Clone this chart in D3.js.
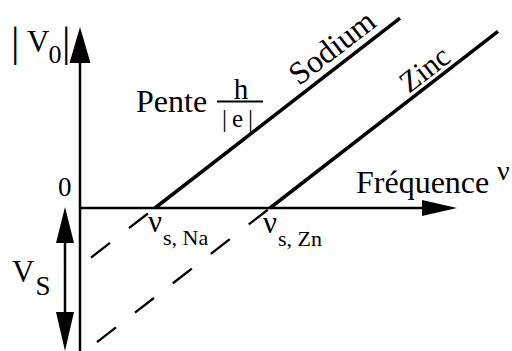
<!DOCTYPE html>
<html>
<head>
<meta charset="utf-8">
<script src="https://cdn.jsdelivr.net/npm/d3@7"></script>
<style>
  html, body { margin: 0; padding: 0; background: #fff; }
  svg { display: block; }
</style>
</head>
<body>
<svg id="chart" width="512" height="351" font-family="Liberation Serif, DejaVu Serif, serif"></svg>
<script>
// Photoelectric effect: stopping potential |V0| versus frequency ν
const metals = ["Sodium", "Zinc"];
const thresholdFreq = [18.75, 47.5];     // ν_s, where |V0| = 0
const dashStartFreq = [2.75, 4.25];      // start of the extrapolated part
const lineEndFreq = [80, 104.5];         // end of the measured part
const labelFreq = [56, 83];              // where each metal name sits along its line
const labelOffset = [8, 5];              // gap between name and line
const labelSize = [32, 30];
const thresholdSub = ["s, Na", "s, Zn"];
const slope = 0.775;                     // h/|e| (same for every metal)

const svg = d3.select("#chart");
const W = 512, H = 351;

const x = d3.scaleLinear().domain([0, 108]).range([80, 512]);
const y = d3.scaleLinear().domain([-35.75, 52]).range([351, 0]);

const V = (nu, i) => slope * (nu - thresholdFreq[i]);
const angle = Math.atan2(y(0) - y(slope), x(1) - x(0)) * 180 / Math.PI;

// ---- axes ----
const yAxisTop = 45.25, xAxisEnd = 94.25;
svg.append("line")
  .attr("x1", x(0)).attr("y1", H).attr("x2", x(0)).attr("y2", y(yAxisTop) + 20)
  .attr("stroke", "#000").attr("stroke-width", 2.5);
svg.append("path")
  .attr("d", `M${x(0)},${y(yAxisTop)} L${x(0) - 10.5},${y(yAxisTop) + 36} L${x(0) + 10.5},${y(yAxisTop) + 36} Z`)
  .attr("fill", "#000");

svg.append("line")
  .attr("x1", x(0)).attr("y1", y(0)).attr("x2", x(xAxisEnd) - 20).attr("y2", y(0))
  .attr("stroke", "#000").attr("stroke-width", 2.5);
svg.append("path")
  .attr("d", `M${x(xAxisEnd)},${y(0)} L${x(xAxisEnd) - 35},${y(0) - 8} L${x(xAxisEnd) - 35},${y(0) + 8} Z`)
  .attr("fill", "#000");

// ---- V_S double arrow ----
const vsX = x(-3.75);
svg.append("line")
  .attr("x1", vsX).attr("y1", y(0) + 20).attr("x2", vsX).attr("y2", H - 20)
  .attr("stroke", "#000").attr("stroke-width", 2.5);
svg.append("path")
  .attr("d", `M${vsX},${y(0) - 1} L${vsX - 9},${y(0) + 35} L${vsX + 9},${y(0) + 35} Z`)
  .attr("fill", "#000");
svg.append("path")
  .attr("d", `M${vsX},${H} L${vsX - 9},${H - 39} L${vsX + 9},${H - 39} Z`)
  .attr("fill", "#000");

// ---- metal lines ----
metals.forEach((m, i) => {
  // extrapolated part below the axis
  svg.append("line")
    .attr("x1", x(dashStartFreq[i])).attr("y1", y(V(dashStartFreq[i], i)))
    .attr("x2", x(thresholdFreq[i])).attr("y2", y(0))
    .attr("stroke", "#000").attr("stroke-width", 2.3)
    .attr("stroke-dasharray", "24,24");
  // measured part
  svg.append("line")
    .attr("x1", x(thresholdFreq[i])).attr("y1", y(0))
    .attr("x2", x(lineEndFreq[i])).attr("y2", y(V(lineEndFreq[i], i)))
    .attr("stroke", "#000").attr("stroke-width", 3.5);

  // metal name written along the line
  const px = x(labelFreq[i]), py = y(V(labelFreq[i], i));
  const a = angle * Math.PI / 180;
  const tx = px - labelOffset[i] * Math.sin(a), ty = py - labelOffset[i] * Math.cos(a);
  svg.append("text")
    .attr("transform", `translate(${tx},${ty}) rotate(${-angle})`)
    .attr("font-size", labelSize[i])
    .text(m);

  // threshold frequency label ν_s
  const lx = x(thresholdFreq[i]) - 7;
  const t = svg.append("text").attr("x", lx).attr("y", y(0) + 24 + i).attr("font-size", 31);
  t.append("tspan").text("ν");
  t.append("tspan").attr("dy", 13).attr("dx", 1).attr("font-size", 22).text(thresholdSub[i]);
});

// ---- labels ----
svg.append("text").attr("x", 58).attr("y", 196).attr("font-size", 27).text("0");

// |V0|
svg.append("text").attr("x", 11).attr("y", 56).attr("font-size", 42).text("|");
const v0 = svg.append("text").attr("x", 27).attr("y", 52).attr("font-size", 31);
v0.append("tspan").text("V");
v0.append("tspan").attr("dy", 11).attr("dx", -1).attr("font-size", 26).text("0");
svg.append("text").attr("x", 62).attr("y", 56).attr("font-size", 42).text("|");

// V_S
const vs = svg.append("text").attr("x", 12).attr("y", 282).attr("font-size", 31);
vs.append("tspan").text("V");
vs.append("tspan").attr("dy", 13).attr("dx", 1).attr("font-size", 27).text("S");

// Pente h/|e|
svg.append("text").attr("x", 136).attr("y", 112).attr("font-size", 32).text("Pente");
svg.append("text").attr("x", 241).attr("y", 99).attr("font-size", 29).attr("text-anchor", "middle").text("h");
svg.append("line").attr("x1", 217).attr("x2", 263).attr("y1", 101.5).attr("y2", 101.5)
  .attr("stroke", "#000").attr("stroke-width", 2);
svg.append("text").attr("x", 240).attr("y", 127).attr("font-size", 25)
  .attr("text-anchor", "middle").attr("letter-spacing", 5).text("|e|");

// Fréquence ν
svg.append("text").attr("x", 356).attr("y", 193).attr("font-size", 32).text("Fréquence");
svg.append("text").attr("x", 497).attr("y", 180).attr("font-size", 28).text("ν");
</script>
</body>
</html>
